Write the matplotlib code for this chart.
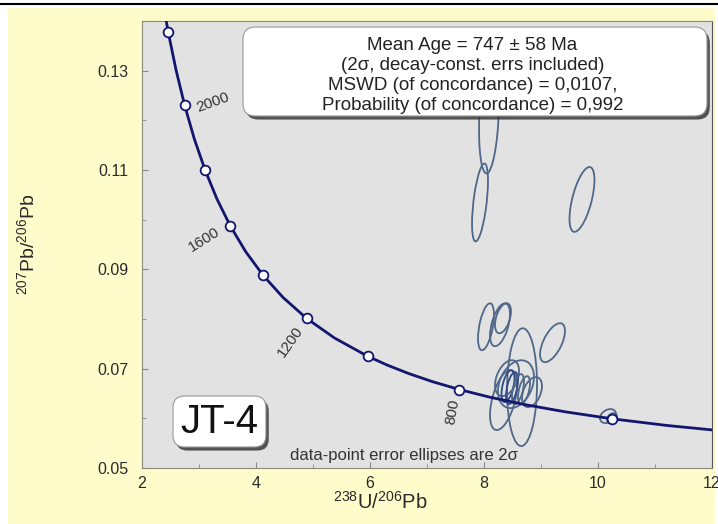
import numpy as np
import matplotlib.pyplot as plt
from matplotlib.patches import Circle, FancyBboxPatch, Rectangle
from matplotlib.transforms import Affine2D
from matplotlib.lines import Line2D

plt.rcParams['font.family'] = ['Liberation Sans', 'DejaVu Sans']
plt.rcParams['mathtext.fontset'] = 'custom'
plt.rcParams['mathtext.rm'] = 'Liberation Sans'
plt.rcParams['mathtext.it'] = 'Liberation Sans:italic'

# конкордия (точки, снятые вдоль кривой)
curve_x = [2.332, 2.459, 2.597, 2.749, 2.917, 3.105, 3.314, 3.550, 3.817, 4.123,
           4.476, 4.888, 5.375, 5.959, 6.298, 6.674, 7.095, 7.568, 8.105, 8.718,
           9.426, 10.252, 11.228, 12.399]
curve_y = [0.14604, 0.13782, 0.13015, 0.12299, 0.11629, 0.11004, 0.10419, 0.09872,
           0.09360, 0.08881, 0.08432, 0.08012, 0.07619, 0.07250, 0.07074, 0.06904,
           0.06739, 0.06580, 0.06425, 0.06276, 0.06131, 0.05990, 0.05854, 0.05722]

# отметки возраста на кривой (Ma)
mark_age = [2200, 2000, 1800, 1600, 1400, 1200, 1000, 800, 600]
mark_x = [2.459, 2.749, 3.105, 3.550, 4.123, 4.888, 5.959, 7.568, 10.252]
mark_y = [0.13782, 0.12299, 0.11004, 0.09872, 0.08881, 0.08012, 0.07250, 0.06580, 0.05990]

# подписанные возрасты
label_age = [2000, 1600, 1200, 800]

# эллипсы ошибок: центр, полуширины (2 сигма), корреляция
ell_x = [8.088, 7.930, 9.719, 8.035, 8.281, 8.333, 9.202, 8.667, 8.342, 8.561,
         8.404, 8.421, 8.491, 8.596, 8.702, 8.842, 10.175, 10.246]
ell_y = [0.12096, 0.10347, 0.10407, 0.07844, 0.07884, 0.08015, 0.07523, 0.06628,
         0.06367, 0.06688, 0.06809, 0.06648, 0.06608, 0.06588, 0.06568, 0.06528,
         0.06045, 0.06005]
ell_sx = [0.175, 0.140, 0.219, 0.140, 0.175, 0.140, 0.219, 0.263, 0.237, 0.316,
          0.211, 0.114, 0.105, 0.105, 0.105, 0.175, 0.140, 0.088]
ell_sy = [0.01166, 0.00784, 0.00653, 0.00472, 0.00432, 0.00302, 0.00392, 0.01186,
          0.00603, 0.00482, 0.00362, 0.00322, 0.00322, 0.00302, 0.00281, 0.00302,
          0.00141, 0.00100]
ell_rho = [0.25, 0.55, 0.6, 0.5, 0.5, 0.45, 0.6, 0.05, 0.5, 0.3,
           0.4, 0.5, 0.5, 0.5, 0.5, 0.4, 0.3, 0.3]

info_lines = ['Mean Age = 747 \u00b1 58 Ma',
              '(2\u03c3, decay-const. errs included)',
              'MSWD (of concordance) = 0,0107,',
              'Probability (of concordance) = 0,992']

fig = plt.figure(figsize=(7.18, 5.24), dpi=100, facecolor='white')
# жёлтый фон и линия сверху
fig.patches.append(Rectangle((8 / 718, 0), 707 / 718, 516 / 524, transform=fig.transFigure,
                             facecolor='#fefccb', edgecolor='none', zorder=-10))
fig.lines.append(Line2D([0, 1], [1 - 3.5 / 524] * 2, transform=fig.transFigure,
                        color='black', lw=1.5))

ax = fig.add_axes([142 / 718, 56 / 524, 570 / 718, 447 / 524])
ax.set_facecolor('#e2e2e2')

# кривая и отметки
ax.plot(curve_x, curve_y, color='#12166e', lw=2, zorder=3)
ax.plot(mark_x, mark_y, 'o', ms=7, mfc='white', mec='#12166e', mew=1.3, zorder=4)

label_style = {2000: ((20, 2), 20), 1600: ((-19, -9.5), 32),
               1200: ((-12, -16.5), 55), 800: ((-4.5, -16), 80)}
for age in label_age:
    i = mark_age.index(age)
    off, rot = label_style[age]
    ax.annotate(str(age), (mark_x[i], mark_y[i]), xytext=off, textcoords='offset points',
                ha='center', va='center', rotation=rot, fontsize=11, color='#333333')

# эллипсы
for i in range(len(ell_x)):
    m = Affine2D(np.array([[ell_sx[i], 0, ell_x[i]],
                           [ell_sy[i] * ell_rho[i], ell_sy[i] * np.sqrt(1 - ell_rho[i] ** 2), ell_y[i]],
                           [0, 0, 1]]))
    col = '#2e4a86' if i in (11, 12) else '#4f6788'
    ax.add_patch(Circle((0, 0), 1, transform=m + ax.transData, fill=False,
                        edgecolor=col, lw=1.3, zorder=2))

ax.set_xlim(2, 12)
ax.set_ylim(0.05, 0.14)
ax.set_xticks([2, 4, 6, 8, 10, 12])
ax.set_xticks([3, 5, 7, 9, 11], minor=True)
ax.set_yticks([0.05, 0.07, 0.09, 0.11, 0.13])
ax.set_yticks([0.06, 0.08, 0.10, 0.12], minor=True)
ax.set_yticklabels(['0.05', '0.07', '0.09', '0.11', '0.13'])
ax.tick_params(which='both', direction='in', color='#888888', labelsize=11.5,
               labelcolor='#2a2a2a')
ax.tick_params(which='major', length=4)
ax.tick_params(which='minor', length=3)
ax.tick_params(axis='x', pad=6)
ax.tick_params(axis='y', pad=10)
for s in ax.spines.values():
    s.set_color('#8a8a7a')
ax.spines['right'].set_color('#555555')

ax.set_xlabel(r'$^{238}$U/$^{206}$Pb', fontsize=14.5, color='#2a2a2a')
ax.xaxis.set_label_coords(0.4175, -0.052)
ax.xaxis.label.set_va('top')
ax.set_ylabel(r'$^{207}$Pb/$^{206}$Pb', fontsize=14, color='#2a2a2a')
ax.yaxis.set_label_coords(-0.202, 0.5)
ax.yaxis.label.set_va('center')

# рамка с результатом
asp = 570 / 447
ax.add_patch(FancyBboxPatch((0.1772 + 0.005, 0.7875 - 0.008), 0.814, 0.199,
                            boxstyle='round,pad=0,rounding_size=0.022', mutation_aspect=asp,
                            transform=ax.transAxes, facecolor='#3a3a3a', edgecolor='none',
                            alpha=0.85, zorder=5))
ax.add_patch(FancyBboxPatch((0.1772, 0.7875), 0.814, 0.199,
                            boxstyle='round,pad=0,rounding_size=0.022', mutation_aspect=asp,
                            transform=ax.transAxes, facecolor='white', edgecolor='#999999',
                            lw=0.8, zorder=6))
for k, line in enumerate(info_lines):
    ax.text(0.58, 0.945 - k * 0.0447, line, transform=ax.transAxes, ha='center', va='center',
            fontsize=13.5, color='#222222', zorder=7)

# название пробы
ax.add_patch(FancyBboxPatch((0.0544 + 0.005, 0.047 - 0.008), 0.163, 0.114,
                            boxstyle='round,pad=0,rounding_size=0.02', mutation_aspect=asp,
                            transform=ax.transAxes, facecolor='#3a3a3a', edgecolor='none',
                            alpha=0.85, zorder=5))
ax.add_patch(FancyBboxPatch((0.0544, 0.047), 0.163, 0.114,
                            boxstyle='round,pad=0,rounding_size=0.02', mutation_aspect=asp,
                            transform=ax.transAxes, facecolor='white', edgecolor='#999999',
                            lw=0.8, zorder=6))
ax.text(0.136, 0.104, 'JT-4', transform=ax.transAxes, ha='center', va='center',
        fontsize=29, color='#111111', zorder=7)

ax.text(0.46, 0.029, 'data-point error ellipses are 2\u03c3', transform=ax.transAxes,
        ha='center', va='center', fontsize=12, color='#333333')

fig.savefig('out.png', dpi=100, facecolor=fig.get_facecolor())
